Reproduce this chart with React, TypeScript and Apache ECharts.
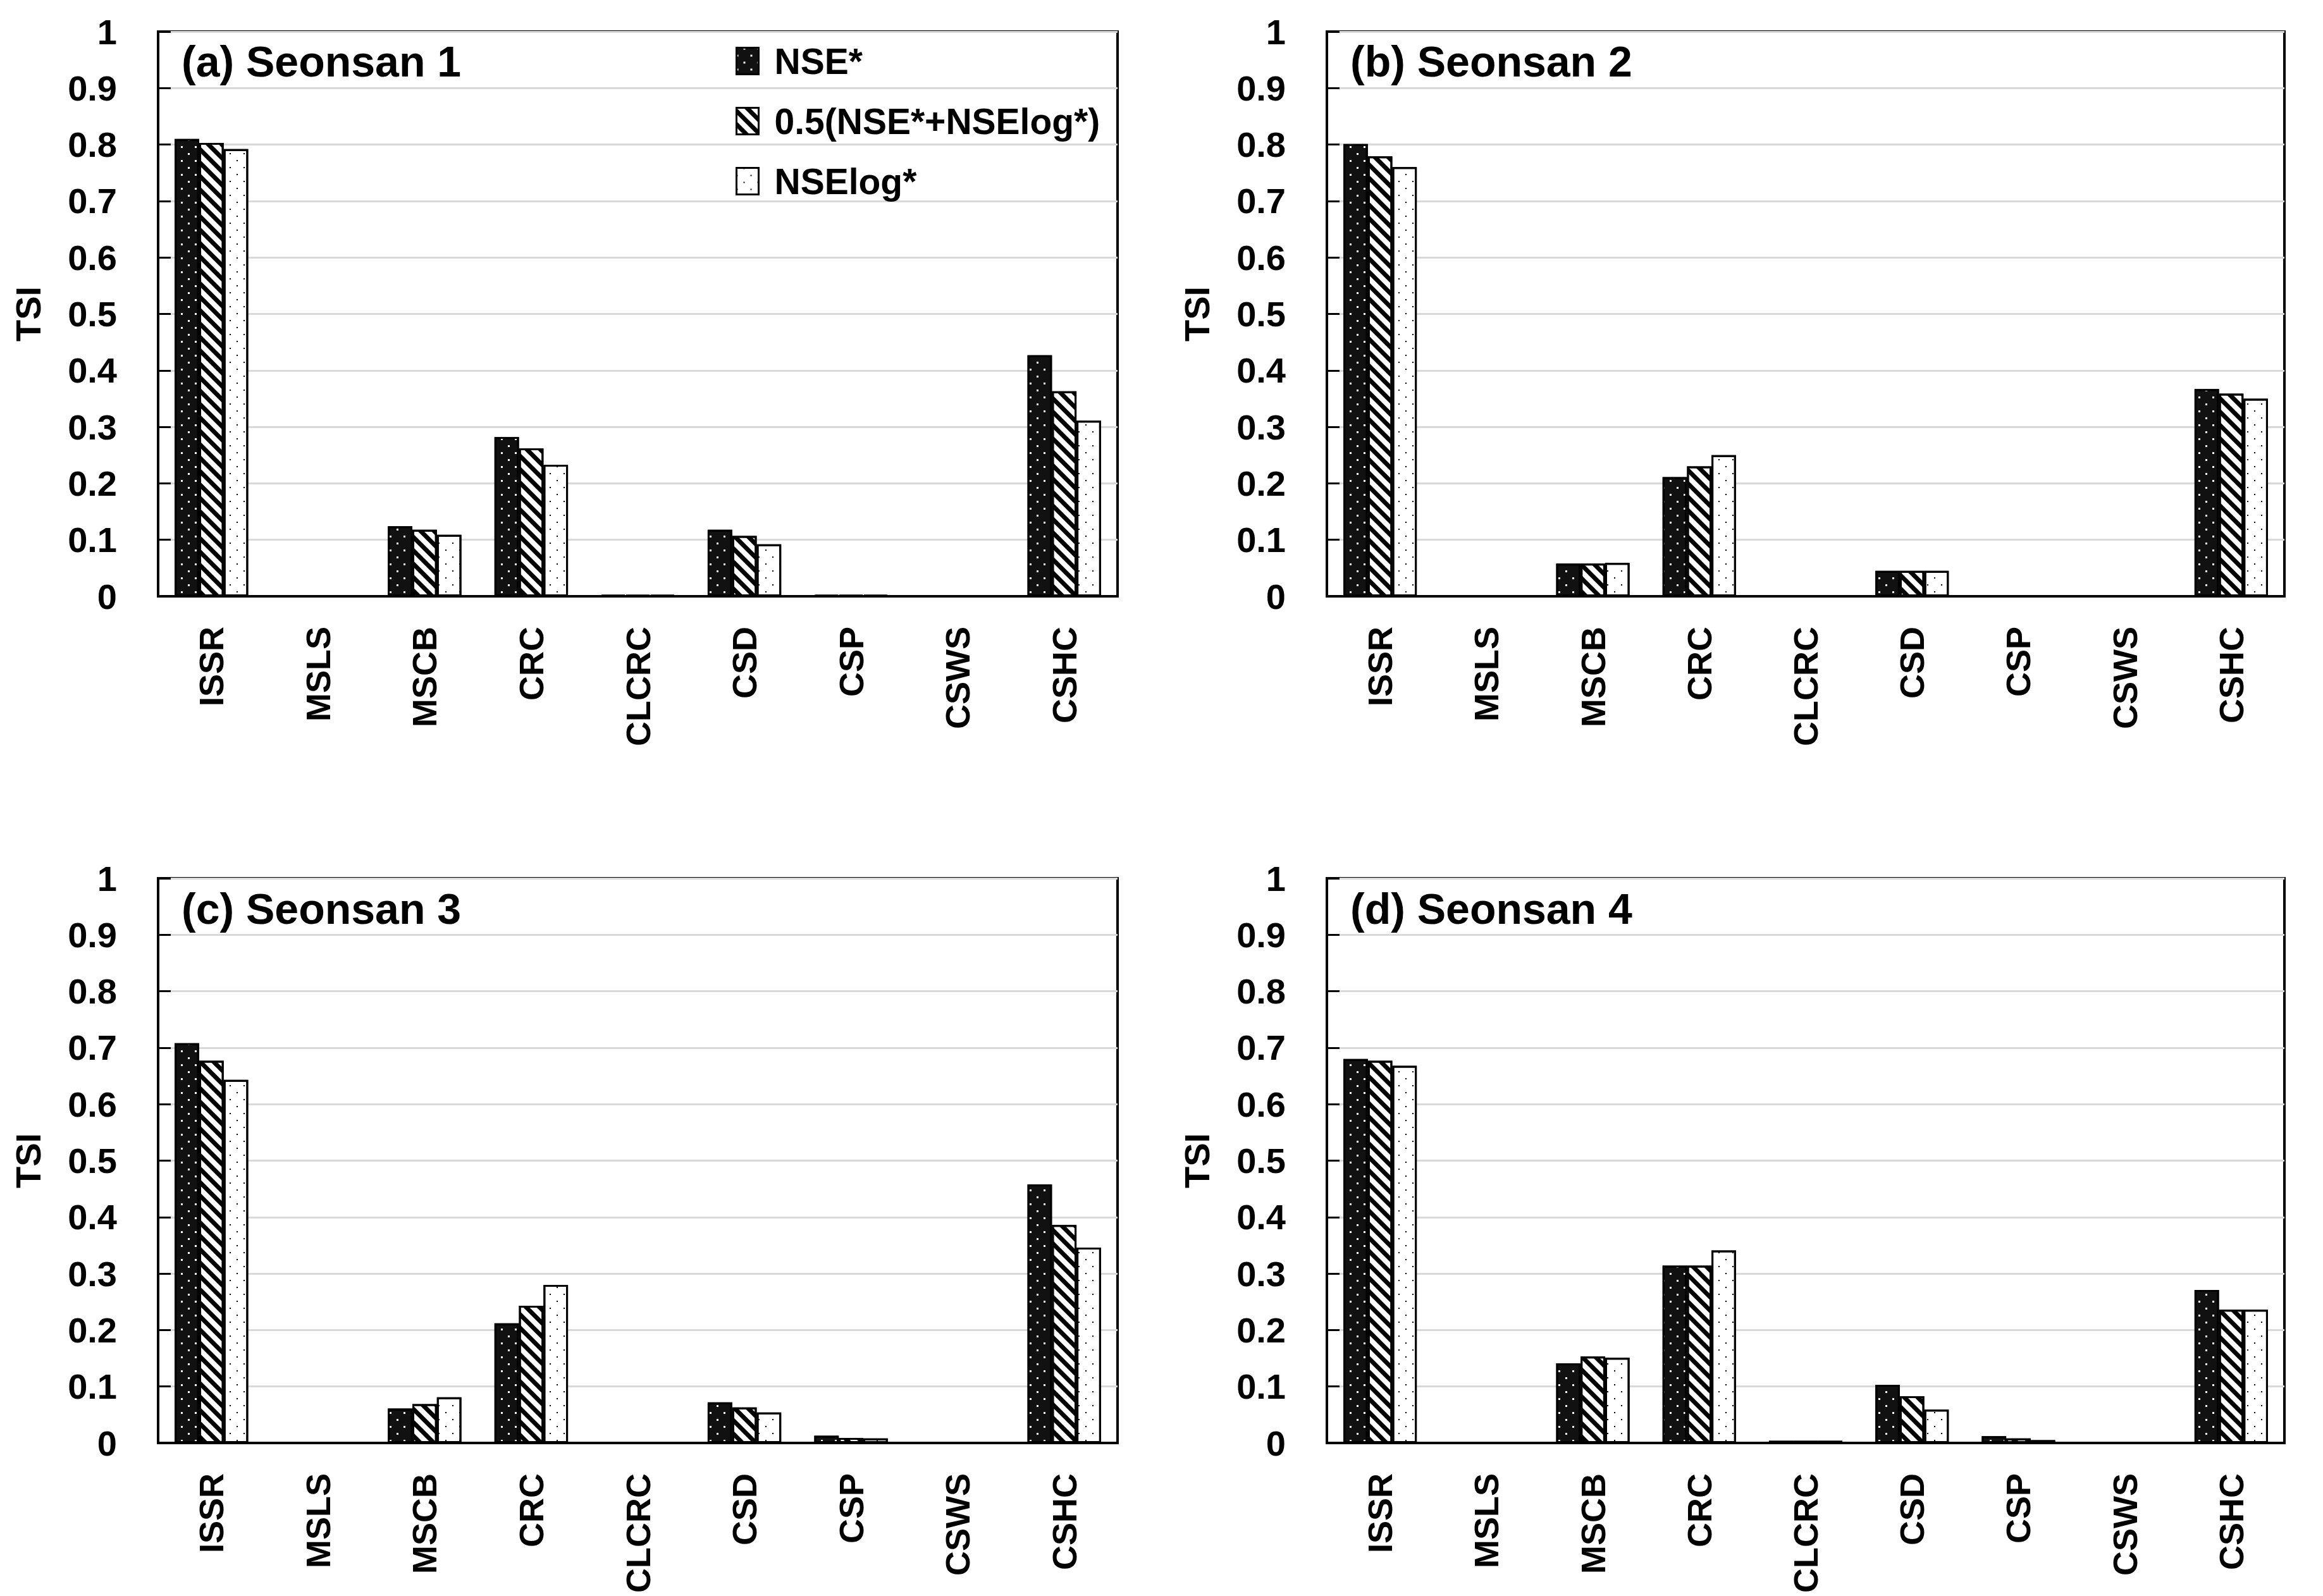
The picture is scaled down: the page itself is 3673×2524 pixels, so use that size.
import React, { useEffect, useRef } from "react";
import * as echarts from "echarts";

const categories = ["ISSR", "MSLS", "MSCB", "CRC", "CLCRC", "CSD", "CSP", "CSWS", "CSHC"];
const seriesNames = ["NSE*", "0.5(NSE*+NSElog*)", "NSElog*"];
const yTicks = [0, 0.1, 0.2, 0.3, 0.4, 0.5, 0.6, 0.7, 0.8, 0.9, 1];
const panelTitles = ["(a) Seonsan 1", "(b) Seonsan 2", "(c) Seonsan 3", "(d) Seonsan 4"];

const nseA = [0.81, 0.001, 0.124, 0.282, 0.002, 0.118, 0.002, 0.001, 0.427];
const midA = [0.803, 0.001, 0.118, 0.262, 0.002, 0.107, 0.002, 0.001, 0.363];
const logA = [0.792, 0.001, 0.109, 0.233, 0.002, 0.092, 0.002, 0.001, 0.311];

const nseB = [0.801, 0.001, 0.058, 0.211, 0.001, 0.045, 0.001, 0.001, 0.367];
const midB = [0.779, 0.001, 0.058, 0.23, 0.001, 0.045, 0.001, 0.001, 0.359];
const logB = [0.76, 0.001, 0.059, 0.25, 0.001, 0.045, 0.001, 0.001, 0.35];

const nseC = [0.708, 0.001, 0.061, 0.212, 0.001, 0.072, 0.013, 0.001, 0.458];
const midC = [0.677, 0.001, 0.069, 0.243, 0.001, 0.063, 0.009, 0.001, 0.386];
const logC = [0.643, 0.001, 0.081, 0.28, 0.001, 0.054, 0.008, 0.001, 0.346];

const nseD = [0.68, 0.0005, 0.141, 0.314, 0.004, 0.103, 0.012, 0.0005, 0.271];
const midD = [0.677, 0.0005, 0.153, 0.314, 0.004, 0.083, 0.008, 0.0005, 0.236];
const logD = [0.668, 0.0005, 0.151, 0.341, 0.004, 0.059, 0.005, 0.0005, 0.236];

const panelData = [
  [nseA, midA, logA],
  [nseB, midB, logB],
  [nseC, midC, logC],
  [nseD, midD, logD],
];

const FONT = "'Liberation Sans', Arial, sans-serif";

const grids = [
  { left: 250, top: 50, width: 1517, height: 893 },
  { left: 2098, top: 50, width: 1514, height: 893 },
  { left: 250, top: 1389, width: 1517, height: 893 },
  { left: 2098, top: 1389, width: 1514, height: 893 },
];

const titlePos = [
  [287, 97],
  [2135, 97],
  [287, 1437],
  [2135, 1437],
];

const seriesStyles = [
  {
    color: "#111111",
    borderColor: "#000",
    borderWidth: 3,
    decal: {
      symbol: "rect",
      symbolSize: 1,
      color: "#ffffff",
      dashArrayX: [[3, 19], [0, 11, 3, 8]],
      dashArrayY: [3, 8],
      rotation: 0,
    },
  },
  {
    color: "#ffffff",
    borderColor: "#000",
    borderWidth: 3,
    decal: {
      symbol: "rect",
      symbolSize: 1,
      color: "#000000",
      dashArrayX: [1, 0],
      dashArrayY: [7, 8],
      rotation: Math.PI / 4,
    },
  },
  {
    color: "#ffffff",
    borderColor: "#000",
    borderWidth: 3,
    decal: {
      symbol: "rect",
      symbolSize: 1,
      color: "#000000",
      dashArrayX: [[2, 20], [0, 11, 2, 9]],
      dashArrayY: [2, 9],
      rotation: 0,
    },
  },
];

export default function App() {
  const ref = useRef<HTMLDivElement>(null);
  useEffect(() => {
    document.body.style.margin = "0";
    if (!ref.current) return;
    const chart = echarts.init(ref.current, null, { renderer: "svg" });

    const xAxis = grids.map((_, i) => ({
      type: "category",
      gridIndex: i,
      data: categories,
      axisLine: { show: true, lineStyle: { color: "#000", width: 4 } },
      axisTick: { show: false },
      axisLabel: {
        interval: 0,
        rotate: 90,
        margin: 48,
        fontSize: 54,
        fontWeight: "bold",
        fontFamily: FONT,
        color: "#000",
      },
    }));

    const yAxis = grids.map((_, i) => ({
      type: "value",
      gridIndex: i,
      min: 0,
      max: 1,
      interval: 0.1,
      name: "TSI",
      nameLocation: "middle",
      nameGap: 178,
      nameRotate: 90,
      nameTextStyle: { fontSize: 56, fontWeight: "bold", fontFamily: FONT, color: "#000" },
      axisLine: { show: true, lineStyle: { color: "#000", width: 4 } },
      axisTick: { show: true, inside: true, length: 20, lineStyle: { color: "#000", width: 3 } },
      axisLabel: {
        margin: 65,
        fontSize: 56,
        fontWeight: "bold",
        fontFamily: FONT,
        color: "#000",
        formatter: (v: number) => {
          const t = yTicks.find((k) => Math.abs(k - v) < 1e-6);
          return String(t !== undefined ? t : v);
        },
      },
      splitLine: { show: true, lineStyle: { color: "#d9d9d9", width: 3 } },
    }));

    const series: any[] = [];
    panelData.forEach((arrs, p) => {
      arrs.forEach((vals, s) => {
        series.push({
          type: "bar",
          name: seriesNames[s],
          xAxisIndex: p,
          yAxisIndex: p,
          data: vals,
          barGap: "0%",
          barCategoryGap: "31%",
          itemStyle: seriesStyles[s],
        });
      });
    });

    const graphic = panelTitles.map((t, i) => ({
      type: "text",
      x: titlePos[i][0],
      y: titlePos[i][1],
      z: 100,
      style: {
        text: t,
        fontSize: 68,
        fontWeight: "bold",
        fontFamily: FONT,
        fill: "#000",
        verticalAlign: "middle",
        textVerticalAlign: "middle",
      },
    }));

    chart.setOption({
      animation: false,
      backgroundColor: "#fff",
      grid: grids.map((g) => ({
        ...g,
        show: true,
        borderColor: "#000",
        borderWidth: 4,
        backgroundColor: "transparent",
        containLabel: false,
      })),
      xAxis,
      yAxis,
      legend: {
        data: seriesNames,
        orient: "vertical",
        left: 1163,
        top: 68,
        padding: 0,
        itemWidth: 35,
        itemHeight: 42,
        itemGap: 38,
        icon: "rect",
        itemStyle: { borderColor: "#000", borderWidth: 3 },
        textStyle: {
          fontSize: 57,
          fontWeight: "bold",
          fontFamily: FONT,
          color: "#000",
          padding: [0, 0, 0, 20],
        },
      },
      graphic,
      series,
    });
    return () => chart.dispose();
  }, []);
  return <div ref={ref} style={{ width: 3673, height: 2524 }} />;
}
